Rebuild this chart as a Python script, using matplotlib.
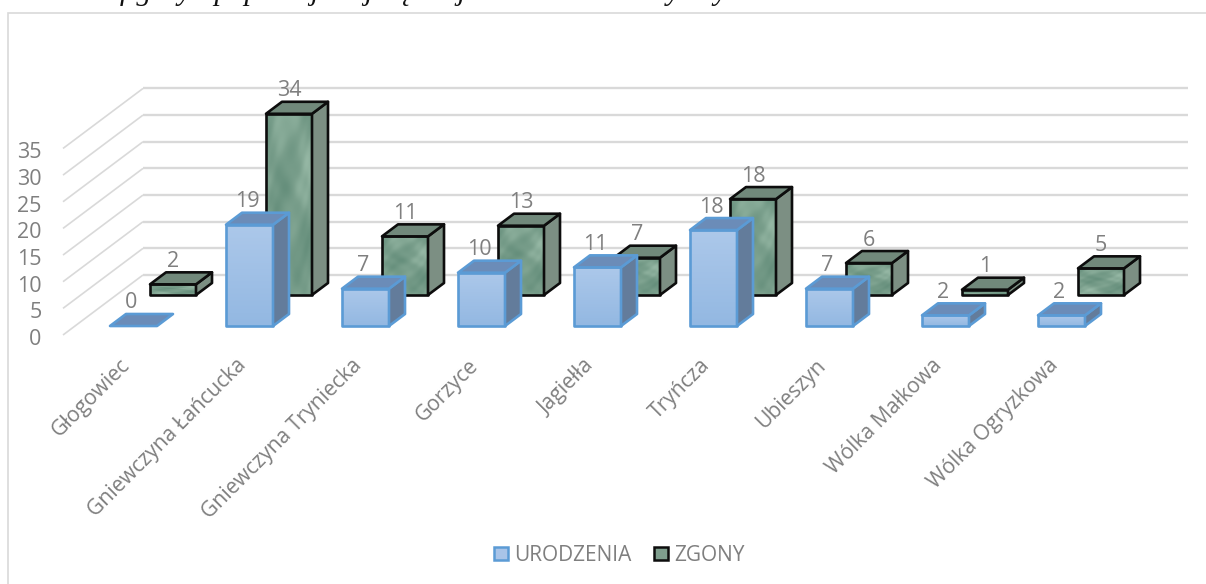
import numpy as np
import matplotlib
matplotlib.use("Agg")
import matplotlib.pyplot as plt
from matplotlib.colors import LinearSegmentedColormap
from matplotlib.patches import Polygon, Rectangle

categories = ["Głogowiec", "Gniewczyna Łańcucka", "Gniewczyna Tryniecka", "Gorzyce",
              "Jagiełła", "Tryńcza", "Ubieszyn", "Wólka Małkowa", "Wólka Ogryzkowa"]
urodzenia = [0, 19, 7, 10, 11, 18, 7, 2, 2]
zgony = [2, 34, 11, 13, 7, 18, 6, 1, 5]
yticks = [0, 5, 10, 15, 20, 25, 30, 35]
series_names = ["URODZENIA", "ZGONY"]

W, H = 1206, 584
plt.rcParams['font.family'] = ['Open Sans', 'DejaVu Sans']
fig = plt.figure(figsize=(W / 100, H / 100), dpi=100)
ax = fig.add_axes([0, 0, 1, 1])
ax.axis('off')

# data scale: 116 px per category, 5.33 px per unit; origin on front plane
PXX, PXY = 116.0, 5.33
X0, Y0 = 133.5, 326.0
XLIM = (-X0 / PXX, (W - X0) / PXX)
YLIM = ((Y0 - H) / PXY, Y0 / PXY)

def px(x):
    return (x - X0) / PXX

def py(y):
    return (Y0 - y) / PXY

GRID = '#d9d9d9'
TXT = '#7f7f7f'
DDX, DDY = 16 / PXX, 12 / PXY  # bar depth
BACK_ROW = 31 / PXY            # green row stands further back on the floor

# chart frame (its right and bottom sides run off the page)
fig.add_artist(Rectangle((8 / W, -0.02), 1.1, (H - 13) / H + 0.02, transform=fig.transFigure,
                         fill=False, ec='#d9d9d9', lw=1.2))

# side wall and back wall
for v in yticks:
    ax.plot([px(63), px(143)], [v - 9 / PXY, v + 51 / PXY], color=GRID, lw=1.2, zorder=1,
            solid_capstyle='butt')
    ax.plot([px(143), px(1188)], [v + 51 / PXY, v + 51 / PXY], color=GRID, lw=1.7, zorder=1,
            solid_capstyle='butt')
    ax.text(px(41.5), v - 11 / PXY, str(v), ha='right', va='center_baseline',
            color=TXT, fontsize=15.5, zorder=5)

yy, xx = np.mgrid[0:256, 0:128] / 40.0
marble = (np.sin(xx * 1.3 + yy * 0.9) + np.sin(xx * 2.2 - yy * 1.4 + 1.2) +
          0.5 * np.sin(xx * 3.9 + yy * 3.1 + np.sin(yy * 1.7)) +
          0.3 * np.sin(xx * 7.3 - yy * 5.1 + 2 * np.sin(xx * 2)))
marble_cm = LinearSegmentedColormap.from_list('g', ['#668f7c', '#7a9f8c', '#96b8a5'])
blue_cm = LinearSegmentedColormap.from_list('b', ['#93b8e2', '#acc8ea'])
gradient = np.linspace(0, 1, 64).reshape(-1, 1)

def bar3d(i, value, off, width, base, side, top, edge, z, textured, label_dx):
    xl = i + off / PXX
    xr = xl + width / PXX
    style = {'zorder': z, 'lw': 1.9, 'ec': edge, 'joinstyle': 'round'}
    if value > 0:
        img, cm = (marble, marble_cm) if textured else (gradient, blue_cm)
        ax.imshow(img, extent=(xl, xr, base, base + value), cmap=cm, origin='lower',
                  aspect='auto', zorder=z, interpolation='bilinear')
        ax.add_patch(Rectangle((xl, base), xr - xl, value, fill=False, **style))
        ax.add_patch(Polygon([(xr, base), (xr + DDX, base + DDY), (xr + DDX, base + DDY + value),
                              (xr, base + value)], fc=side, **style))
    ax.add_patch(Polygon([(xl, base + value), (xr, base + value), (xr + DDX, base + value + DDY),
                          (xl + DDX, base + value + DDY)], fc=top, **style))
    ax.text((xl + xr) / 2 + label_dx / PXX, base + value + DDY + 0.5 / PXY, str(value),
            ha='center', va='bottom', color=TXT, fontsize=15.5, zorder=20)

for i in range(len(categories)):
    bar3d(i, zgony[i], 16.5, 46, BACK_ROW, '#7c8f83', '#71897b', '#0d0d0d', 3 + i * 0.01, True, 0)
for i in range(len(categories)):
    bar3d(i, urodzenia[i], -23.5, 47, 0.0, '#637c9b', '#6b8cb8', '#5b9bd5', 6 + i * 0.01, False, -2)

ax.set_xlim(*XLIM)
ax.set_ylim(*YLIM)

# category labels
for i, c in enumerate(categories):
    ax.text(i - 14 / PXX, py(355), c, rotation=45, rotation_mode='anchor', ha='right', va='top',
            color=TXT, fontsize=15.2, zorder=5)

# legend
for name, xp, fc, ec in [(series_names[0], 494, '#a9c4e8', '#5b9bd5'),
                         (series_names[1], 654, '#7f9f8e', '#0d0d0d')]:
    ax.add_patch(Rectangle((px(xp), py(560)), 14 / PXX, 13.5 / PXY, fc=fc, ec=ec, lw=1.8, zorder=5))
    ax.text(px(xp + 20), py(553), name, ha='left', va='center_baseline', color=TXT,
            fontsize=15, zorder=5)

# body text of the page above the chart, cut by the image edge
fig.text(10 / W, 1 - 0.5 / H, "Dane na figury i populacji najczęściej na terenie Gminy Tryńcza w 2016 r.",
         family='Liberation Serif', style='italic', fontsize=21.5, ha='left', va='baseline',
         color='#111111')

fig.savefig('out.png', dpi=100)
